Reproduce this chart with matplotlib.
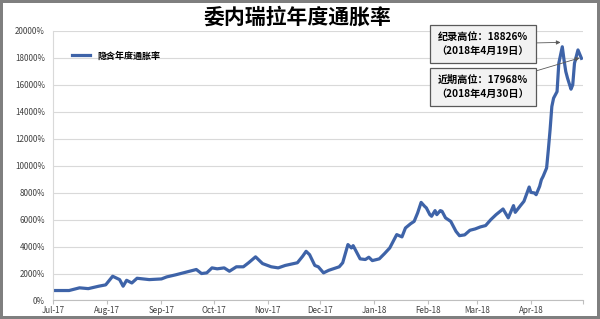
import numpy as np
import matplotlib
matplotlib.use('Agg')
import matplotlib.pyplot as plt
import matplotlib.dates as mdates
import pandas as pd

plt.rcParams['font.family'] = ['Noto Sans CJK SC', 'DejaVu Sans']

# implied annual inflation (percent)
dates = ['2017-07-01', '2017-07-10', '2017-07-16', '2017-07-21', '2017-07-27', '2017-07-31',
         '2017-08-04', '2017-08-08', '2017-08-10', '2017-08-12', '2017-08-15', '2017-08-18',
         '2017-08-25', '2017-09-01', '2017-09-04', '2017-09-09', '2017-09-15', '2017-09-21',
         '2017-09-24', '2017-09-27', '2017-09-30', '2017-10-03', '2017-10-07', '2017-10-10',
         '2017-10-14', '2017-10-18', '2017-10-21', '2017-10-25', '2017-10-29', '2017-11-03',
         '2017-11-07', '2017-11-11', '2017-11-18', '2017-11-21', '2017-11-23', '2017-11-25',
         '2017-11-28', '2017-11-30', '2017-12-03', '2017-12-06', '2017-12-12', '2017-12-14',
         '2017-12-17', '2017-12-19', '2017-12-20', '2017-12-24', '2017-12-27', '2017-12-29',
         '2017-12-31', '2018-01-04', '2018-01-07', '2018-01-10', '2018-01-14', '2018-01-17',
         '2018-01-19', '2018-01-22', '2018-01-24', '2018-01-26', '2018-01-28', '2018-01-30',
         '2018-01-31', '2018-02-02', '2018-02-03', '2018-02-05', '2018-02-06', '2018-02-08',
         '2018-02-09', '2018-02-11', '2018-02-14', '2018-02-17', '2018-02-19', '2018-02-22',
         '2018-02-25', '2018-02-28', '2018-03-03', '2018-03-06', '2018-03-09', '2018-03-12',
         '2018-03-16', '2018-03-19', '2018-03-22', '2018-03-23', '2018-03-26', '2018-03-28',
         '2018-03-31', '2018-04-01', '2018-04-03', '2018-04-04', '2018-04-06', '2018-04-07',
         '2018-04-08', '2018-04-10', '2018-04-11', '2018-04-12', '2018-04-13', '2018-04-14',
         '2018-04-16', '2018-04-17', '2018-04-19', '2018-04-20', '2018-04-21', '2018-04-22',
         '2018-04-24', '2018-04-25', '2018-04-26', '2018-04-28', '2018-04-30']
values = [740, 740, 940, 880, 1060, 1160,
          1800, 1550, 1060, 1500, 1300, 1650,
          1550, 1600, 1750, 1900, 2100, 2300,
          2000, 2050, 2420, 2350, 2420, 2170,
          2500, 2500, 2800, 3240, 2740, 2500,
          2420, 2600, 2800, 3280, 3650, 3400,
          2600, 2500, 2050, 2240, 2500, 2800,
          4150, 3900, 4070, 3090, 3040, 3210,
          2960, 3090, 3480, 3900, 4890, 4720,
          5380, 5700, 5870, 6500, 7280, 6990,
          6870, 6370, 6250, 6670, 6370, 6670,
          6620, 6130, 5870, 5130, 4810, 4870,
          5210, 5310, 5460, 5560, 6000, 6370,
          6790, 6130, 7040, 6540, 7040, 7360,
          8420, 8020, 7980, 7850, 8470, 8960,
          9210, 9830, 11190, 12670, 14390, 15010,
          15500, 17600, 18826, 17850, 16990, 16500,
          15680, 16000, 17600, 18590, 17968]

title = '委内瑞拉年度通胀率'
series_name = '隐含年度通胀率'
note_high = '纪录高位：18826%\n（2018年4月19日）'
note_recent = '近期高位：17968%\n（2018年4月30日）'

x = pd.to_datetime(dates)

fig = plt.figure(figsize=(6, 3.19), dpi=100)
fig.patch.set_edgecolor('#7f7f7f')
fig.patch.set_linewidth(3)
ax = fig.add_axes([0.089, 0.058, 0.883, 0.845])

ax.plot(x, values, color='#3e63a8', lw=2.3, label=series_name)

ax.set_xlim(pd.Timestamp('2017-07-01'), pd.Timestamp('2018-05-01'))
ax.set_ylim(0, 20000)
ax.set_yticks(np.arange(0, 20001, 2000))
ax.yaxis.set_major_formatter(matplotlib.ticker.FuncFormatter(lambda v, p: '%d%%' % v))
ax.xaxis.set_major_locator(mdates.MonthLocator())
# last tick (May-18) carries no label
ax.xaxis.set_major_formatter(matplotlib.ticker.FuncFormatter(
    lambda v, p: '' if mdates.num2date(v).month == 5 else mdates.num2date(v).strftime('%b-%y')))
ax.grid(axis='y', color='#d9d9d9', lw=0.8)
ax.set_axisbelow(True)
for s in ['top', 'right']:
    ax.spines[s].set_visible(False)
ax.spines['left'].set_color('#d9d9d9')
ax.spines['bottom'].set_color('#bfbfbf')
ax.tick_params(axis='y', length=0, labelsize=5.8, colors='#404040', pad=6)
ax.tick_params(axis='x', length=3, color='#bfbfbf', labelsize=5.8, labelcolor='#404040', pad=1)

leg = ax.legend(loc='upper left', bbox_to_anchor=(0.02, 0.955), frameon=False,
                prop={'size': 6.5, 'weight': 'bold'}, handlelength=2.0)

fig.text(0.495, 0.947, title, ha='center', va='center', fontsize=15, fontweight='bold')

box = dict(boxstyle='square,pad=0.7', fc='#f2f2f2', ec='#595959', lw=0.9)
arrow = dict(arrowstyle='-|>', color='#595959', lw=0.6, mutation_scale=6, shrinkA=0, shrinkB=0)
ax.annotate(note_high, xy=(pd.Timestamp('2018-04-18'), 19150),
            xytext=(0.805, 0.862), textcoords='figure fraction', ha='center', va='center',
            fontsize=7.3, fontweight='bold', bbox=box, arrowprops=arrow, linespacing=1.45)
ax.annotate(note_recent, xy=(pd.Timestamp('2018-04-29'), 18000),
            xytext=(0.805, 0.728), textcoords='figure fraction', ha='center', va='center',
            fontsize=7.3, fontweight='bold', bbox=box, arrowprops=arrow, linespacing=1.45)

fig.savefig('out.png', dpi=100)
